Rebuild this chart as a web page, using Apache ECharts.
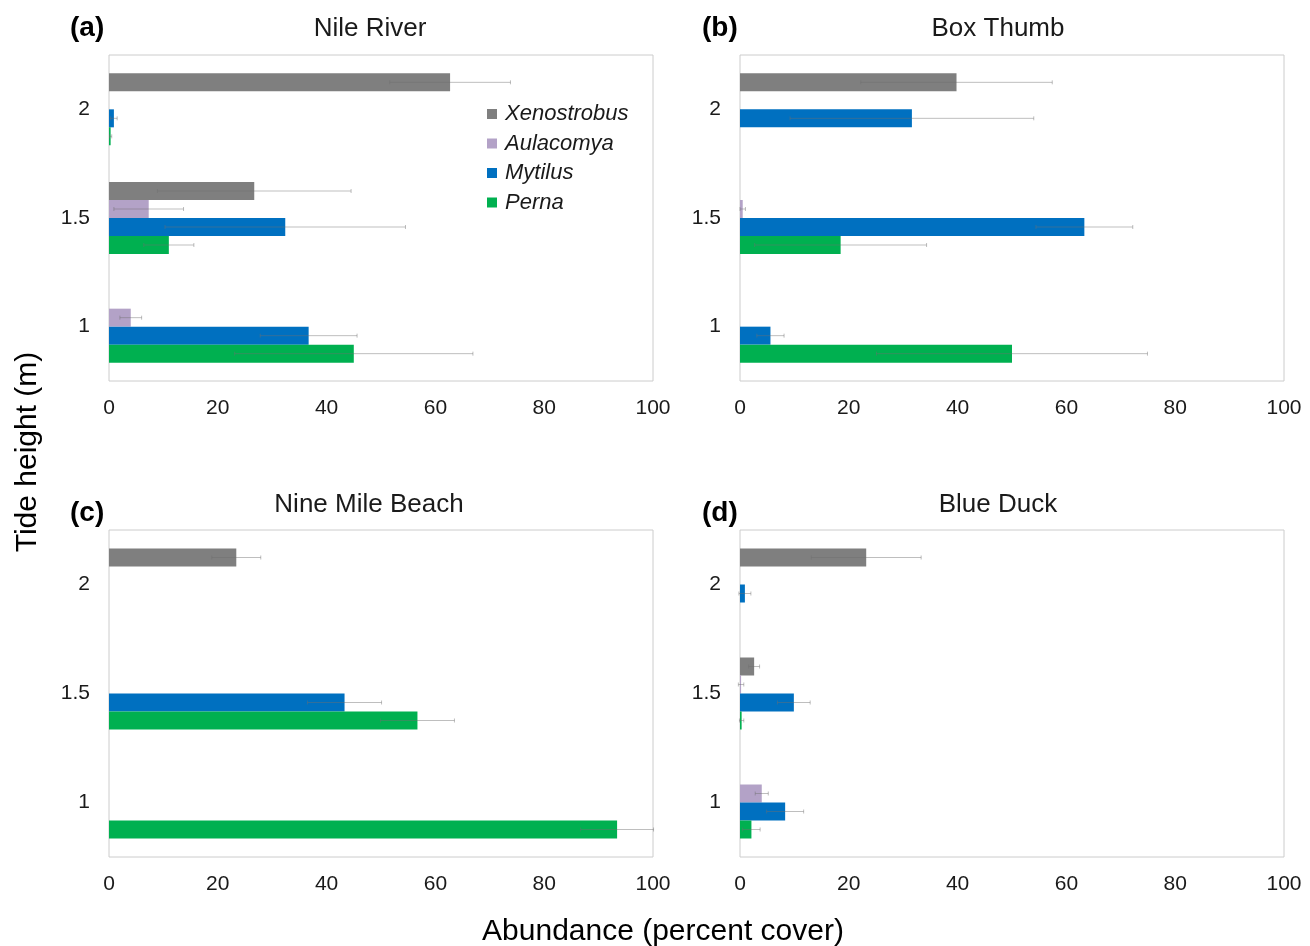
<!DOCTYPE html>
<html>
<head>
<meta charset="utf-8">
<script src="https://cdn.jsdelivr.net/npm/echarts@6/dist/echarts.min.js"></script>
<style>
html,body{margin:0;padding:0;background:#fff;}
#chart{width:1310px;height:946px;}
</style>
</head>
<body>
<div id="chart"></div>
<script>
// ---- data ----
const tideLevels = ['1', '1.5', '2'];
const species = ['Xenostrobus', 'Aulacomya', 'Mytilus', 'Perna'];
const siteNames = ['Nile River', 'Box Thumb', 'Nine Mile Beach', 'Blue Duck'];
const panelLetters = ['(a)', '(b)', '(c)', '(d)'];
const xTicks = [0, 20, 40, 60, 80, 100];

// rows: species (Xenostrobus, Aulacomya, Mytilus, Perna); columns: tide 1, 1.5, 2
const nileRiverMean = [[0, 26.7, 62.7], [4.0, 7.3, 0], [36.7, 32.4, 0.9], [45.0, 11.0, 0.3]];
const nileRiverErr  = [[0, 17.8, 11.1], [2.0, 6.4, 0], [8.9, 22.1, 0.6], [21.9, 4.6, 0.2]];
const boxThumbMean  = [[0, 0, 39.8], [0, 0.5, 0], [5.6, 63.3, 31.6], [50.0, 18.5, 0]];
const boxThumbErr   = [[0, 0, 17.6], [0, 0.5, 0], [2.5, 8.9, 22.4], [24.9, 15.8, 0]];
const nineMileMean  = [[0, 0, 23.4], [0, 0, 0], [0, 43.3, 0], [93.4, 56.7, 0]];
const nineMileErr   = [[0, 0, 4.5], [0, 0, 0], [0, 6.8, 0], [6.7, 6.8, 0]];
const blueDuckMean  = [[0, 2.6, 23.2], [4.0, 0.2, 0], [8.3, 9.9, 0.9], [2.1, 0.3, 0]];
const blueDuckErr   = [[0, 1.0, 10.1], [1.2, 0.5, 0], [3.4, 3.0, 1.1], [1.6, 0.4, 0]];

const siteMeans = [nileRiverMean, boxThumbMean, nineMileMean, blueDuckMean];
const siteErrs = [nileRiverErr, boxThumbErr, nineMileErr, blueDuckErr];

// ---- styling ----
const colors = ['#7f7f7f', '#b3a2c7', '#0070c0', '#00b050'];
const FONT = '"Liberation Sans", Arial, sans-serif';
const BAR_W = 18;
const grids = [
  {left: 109, top: 55, width: 544, height: 326},
  {left: 740, top: 55, width: 544, height: 326},
  {left: 109, top: 530, width: 544, height: 327},
  {left: 740, top: 530, width: 544, height: 327}
];

const chart = echarts.init(document.getElementById('chart'), null, {renderer: 'canvas'});

const gridOpts = grids.map(g => Object.assign({show: true, borderColor: '#cccccc', borderWidth: 1, backgroundColor: '#fff'}, g));
const xAxes = grids.map((g, i) => ({
  type: 'value', gridIndex: i, min: 0, max: 100, interval: 20,
  axisLine: {show: false}, axisTick: {show: false}, splitLine: {show: false},
  axisLabel: {fontFamily: FONT, fontSize: 21, color: '#1a1a1a', margin: 17,
    formatter: v => xTicks.indexOf(v) >= 0 ? String(v) : ''}
}));
const yAxes = grids.map((g, i) => ({
  type: 'category', gridIndex: i, data: tideLevels,
  axisLine: {show: false}, axisTick: {show: false}, splitLine: {show: false},
  axisLabel: {fontFamily: FONT, fontSize: 21, color: '#1a1a1a', margin: 19}
}));

const series = [];
for (let p = 0; p < 4; p++) {
  species.forEach((sp, s) => {
    series.push({
      type: 'bar', name: sp, xAxisIndex: p, yAxisIndex: p,
      barWidth: BAR_W, barGap: '0%',
      itemStyle: {color: colors[s]},
      data: siteMeans[p][s],
      silent: true, animation: false
    });
  });
  species.forEach((sp, s) => {
    const errData = [];
    siteMeans[p][s].forEach((m, c) => {
      const e = siteErrs[p][s][c];
      if (m > 0 && e > 0) errData.push([m - e, m + e, c]);
    });
    series.push({
      type: 'custom', name: 'err-' + sp, xAxisIndex: p, yAxisIndex: p,
      silent: true, animation: false, z: 5,
      encode: {x: [0, 1], y: 2},
      data: errData,
      renderItem: function (params, api) {
        const lo = api.value(0), hi = api.value(1), c = api.value(2);
        const p1 = api.coord([lo, c]);
        const p2 = api.coord([hi, c]);
        const y = p1[1] + (s - 1.5) * BAR_W;
        const st = {stroke: 'rgba(110,110,110,0.45)', lineWidth: 1};
        return {type: 'group', children: [
          {type: 'line', shape: {x1: p1[0], y1: y, x2: p2[0], y2: y}, style: st},
          {type: 'line', shape: {x1: p1[0], y1: y - 2, x2: p1[0], y2: y + 2}, style: st},
          {type: 'line', shape: {x1: p2[0], y1: y - 2, x2: p2[0], y2: y + 2}, style: st}
        ]};
      }
    });
  });
}

const graphics = [];
const titlePos = [[370, 29], [998, 29], [369, 505], [998, 505]];
const letterPos = [[70, 28], [702, 28], [70, 513], [702, 513]];
for (let p = 0; p < 4; p++) {
  graphics.push({type: 'text', x: titlePos[p][0], y: titlePos[p][1], silent: true,
    style: {text: siteNames[p], font: '26px ' + FONT, fill: '#1a1a1a', textAlign: 'center', textVerticalAlign: 'middle'}});
  graphics.push({type: 'text', x: letterPos[p][0], y: letterPos[p][1], silent: true,
    style: {text: panelLetters[p], font: 'bold 28px ' + FONT, fill: '#000', textAlign: 'left', textVerticalAlign: 'middle'}});
}
graphics.push({type: 'text', x: 28, y: 452, rotation: Math.PI / 2, silent: true,
  style: {text: 'Tide height (m)', font: '30px ' + FONT, fill: '#000', textAlign: 'center', textVerticalAlign: 'middle'}});
graphics.push({type: 'text', x: 663, y: 932, silent: true,
  style: {text: 'Abundance (percent cover)', font: '30px ' + FONT, fill: '#000', textAlign: 'center', textVerticalAlign: 'middle'}});

chart.setOption({
  animation: false,
  backgroundColor: '#fff',
  grid: gridOpts,
  xAxis: xAxes,
  yAxis: yAxes,
  legend: {
    data: species, orient: 'vertical', left: 482, top: 98,
    itemWidth: 10, itemHeight: 10, itemGap: 7.5, icon: 'rect', selectedMode: false,
    textStyle: {fontFamily: FONT, fontSize: 22, fontStyle: 'italic', color: '#1a1a1a', padding: [0, 0, 0, 3]}
  },
  graphic: graphics,
  series: series
});
</script>
</body>
</html>
